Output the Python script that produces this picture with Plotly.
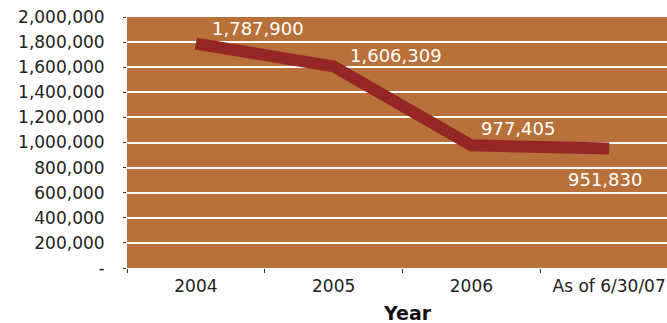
import plotly.graph_objects as go

# Enrollment totals by reporting year
years = ["2004", "2005", "2006", "As of 6/30/07"]
totals = [1787900, 1606309, 977405, 951830]

# y-axis ticks (accounting style: zero shown as a dash)
y_ticks = [0, 200000, 400000, 600000, 800000, 1000000,
           1200000, 1400000, 1600000, 1800000, 2000000]
y_tick_text = ["-"] + [f"{v:,}" for v in y_ticks[1:]]

# label offsets (pixels) for each data label
label_dx = [62, 62, 47, -4]
label_dy = [15, 11, 17, -31]

line_color = "#952626"
bg_color = "#B8713A"
font_family = "DejaVu Sans, Verdana, sans-serif"

fig = go.Figure()
fig.add_trace(go.Scatter(
    x=years, y=totals, mode="lines",
    line=dict(color=line_color, width=12),
    hoverinfo="skip", showlegend=False,
))

for i, (y, dx, dy) in enumerate(zip(totals, label_dx, label_dy)):
    fig.add_annotation(
        x=i, y=y, text=f"{y:,}", showarrow=False,
        xshift=dx, yshift=dy,
        font=dict(family=font_family, size=18, color="white"),
    )

# axis title
fig.add_annotation(
    xref="paper", yref="paper", x=0.52, y=-0.179,
    xanchor="center", yanchor="middle", showarrow=False,
    text="<b>Year</b>", font=dict(family=font_family, size=19, color="#111111"),
)

fig.update_layout(
    width=667, height=323,
    margin=dict(l=127, r=0, t=17, b=55),
    paper_bgcolor="white",
    plot_bgcolor=bg_color,
    font=dict(family=font_family, color="#222222"),
    xaxis=dict(
        type="category",
        range=[-0.5, 3.42],
        tickson="boundaries",
        ticks="outside", ticklen=4, tickcolor="#333333",
        ticklabelstandoff=6,
        showgrid=False, zeroline=False,
        tickfont=dict(size=17, color="#222222"),
    ),
    yaxis=dict(
        range=[0, 2000000],
        tickvals=y_ticks, ticktext=y_tick_text,
        ticks="outside", ticklen=3, tickcolor="#333333",
        ticklabelstandoff=15,
        showgrid=True, gridcolor="white", gridwidth=2,
        zeroline=False,
        tickfont=dict(size=17, color="#222222"),
    ),
)

fig.write_html("out.html")
